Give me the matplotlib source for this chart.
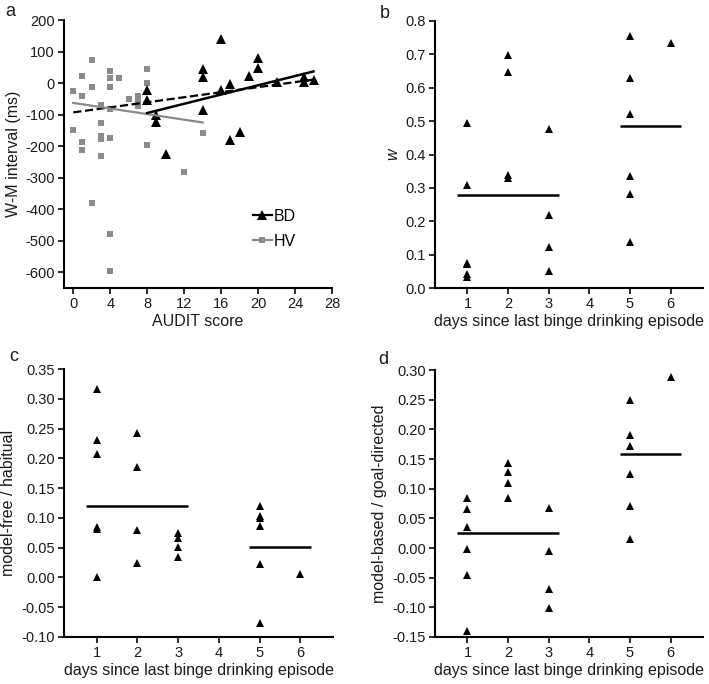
#!/usr/bin/env python3

import numpy as np
import matplotlib
matplotlib.use("Agg")
import matplotlib.pyplot as plt
from matplotlib.lines import Line2D

plt.rcParams['font.family'] = ['Liberation Sans', 'DejaVu Sans']
plt.rcParams['font.size'] = 10
plt.rcParams['axes.unicode_minus'] = False

# panel a: AUDIT score vs W-M interval
hv_x = [0, 0, 1, 1, 1, 1, 2, 2, 2, 3, 3, 3, 3, 3, 4, 4, 4, 4, 4, 4, 4,
        5, 6, 7, 7, 7, 8, 8, 8, 12, 14]
hv_y = [-26, -148, 21, -40, -188, -213, 73, -11, -380, -70, -127, -167, -177, -230,
        37, 15, -13, -82, -173, -479, -597, 17, -52, -40, -53, -72, 46, -1, -198,
        -281, -158]
bd_x = [8, 8, 9, 9, 10, 14, 14, 14, 16, 16, 17, 17, 18, 19, 20, 20, 22, 25, 25, 26]
bd_y = [-23, -53, -100, -125, -225, 46, 20, -84, 140, -21, -2, -182, -154, 22,
        80, 47, 3, 18, 2, 9]

# regression lines as published: (slope, intercept, x from, x to)
fit_all = (4.0, -93.0, 0, 26)
fit_hv = (-4.43, -63.0, 0, 14)
fit_bd = (7.33, -153.7, 8, 26)

# panels b-d: days since last binge drinking episode
days = [1, 1, 1, 1, 1, 1, 2, 2, 2, 2, 3, 3, 3, 3, 5, 5, 5, 5, 5, 5, 6]
w_vals = [0.495, 0.31, 0.076, 0.071, 0.041, 0.033, 0.697, 0.647, 0.34, 0.33,
          0.476, 0.218, 0.124, 0.05, 0.755, 0.628, 0.52, 0.336, 0.281, 0.137, 0.733]
mf_vals = [0.317, 0.231, 0.207, 0.084, 0.082, 0.0, 0.243, 0.186, 0.08, 0.025,
           0.074, 0.066, 0.051, 0.034, 0.12, 0.103, 0.1, 0.086, 0.022, -0.076, 0.006]
mb_vals = [0.084, 0.065, 0.036, -0.001, -0.046, -0.14, 0.144, 0.128, 0.11, 0.084,
           0.068, -0.005, -0.069, -0.101, 0.25, 0.19, 0.172, 0.124, 0.071, 0.015, 0.289]

GRAY = '#8a8a8a'
TXT = '#1a1a1a'
W, H = 709, 684
TICK_FS = 10.5
LAB_FS = 11.5


def make_ax(fig, l, t, r, b):
    ax = fig.add_axes([l / W, 1 - b / H, (r - l) / W, (b - t) / H])
    ax.spines['top'].set_visible(False)
    ax.spines['right'].set_visible(False)
    for s in ['left', 'bottom']:
        ax.spines[s].set_linewidth(1.5)
    ax.tick_params(direction='out', length=4, width=1.3, colors=TXT,
                   labelsize=TICK_FS, pad=2.5)
    return ax


def days_panel(ax, vals, ylim, yticks, ylabel):
    d = np.array(days)
    v = np.array(vals)
    ax.plot(d, v, '^', color='black', markersize=6, mew=0, linestyle='none')
    early = d <= 3
    ax.hlines(v[early].mean(), 0.75, 3.25, color='black', lw=1.8)
    ax.hlines(v[~early].mean(), 4.75, 6.25, color='black', lw=1.8)
    ax.set_xlim(0.2, 6.8)
    ax.set_xticks([1, 2, 3, 4, 5, 6])
    ax.set_ylim(*ylim)
    ax.set_yticks(yticks)
    ax.set_xlabel('days since last binge drinking episode', fontsize=LAB_FS,
                  color=TXT, labelpad=2)
    ax.set_ylabel(ylabel, fontsize=LAB_FS, color=TXT, labelpad=4)


def fit_line(ax, fit, **kw):
    k, c, x0, x1 = fit
    xs = np.array([x0, x1])
    ax.plot(xs, k * xs + c, **kw)


fig = plt.figure(figsize=(W / 100, H / 100), dpi=100)

# a
ax = make_ax(fig, 64, 20, 332, 288)
ax.plot(hv_x, hv_y, 's', color=GRAY, markersize=5, mew=0, linestyle='none')
ax.plot(bd_x, bd_y, '^', color='black', markersize=7, mew=0, linestyle='none')
fit_line(ax, fit_all, ls='--', color='black', lw=1.6)
fit_line(ax, fit_hv, ls='-', color=GRAY, lw=1.6)
fit_line(ax, fit_bd, ls='-', color='black', lw=1.8)
ax.set_xlim(-1, 28)
ax.set_xticks(range(0, 29, 4))
ax.set_ylim(-650, 200)
ax.set_yticks(range(-600, 201, 100))
ax.set_xlabel('AUDIT score', fontsize=LAB_FS, color=TXT, labelpad=2)
ax.set_ylabel('W-M interval (ms)', fontsize=LAB_FS, color=TXT, labelpad=3)
handles = [Line2D([], [], color='black', marker='^', markersize=7, mew=0, lw=1.6),
           Line2D([], [], color=GRAY, marker='s', markersize=5, mew=0, lw=1.6)]
ax.legend(handles, ['BD', 'HV'], loc='upper left', bbox_to_anchor=(0.68, 0.32),
          frameon=False, handlelength=1.2, handletextpad=0.1, fontsize=LAB_FS,
          labelspacing=0.65, borderaxespad=0)

# b
ax = make_ax(fig, 435, 21, 703, 288)
yt = np.arange(0, 0.81, 0.1)
days_panel(ax, w_vals, (0, 0.8), yt, 'w')
ax.yaxis.label.set_fontstyle('italic')
ax.set_yticklabels([f'{t:.1f}' for t in yt])

# c
ax = make_ax(fig, 64, 369, 333, 637)
yt = np.arange(-0.10, 0.351, 0.05)
days_panel(ax, mf_vals, (-0.10, 0.35), yt, 'model-free / habitual')
ax.set_yticklabels([f'{t:.2f}' for t in yt])

# d
ax = make_ax(fig, 435, 370, 703, 637)
yt = np.arange(-0.15, 0.301, 0.05)
days_panel(ax, mb_vals, (-0.15, 0.30), yt, 'model-based / goal-directed')
ax.set_yticklabels([f'{t:.2f}' for t in yt])

for lab, x, y in [('a', 10, 12), ('b', 385, 13), ('c', 14, 357), ('d', 383, 359)]:
    fig.text(x / W, 1 - y / H, lab, fontsize=13, color=TXT, ha='center', va='center')

fig.savefig('out.png', dpi=100)
